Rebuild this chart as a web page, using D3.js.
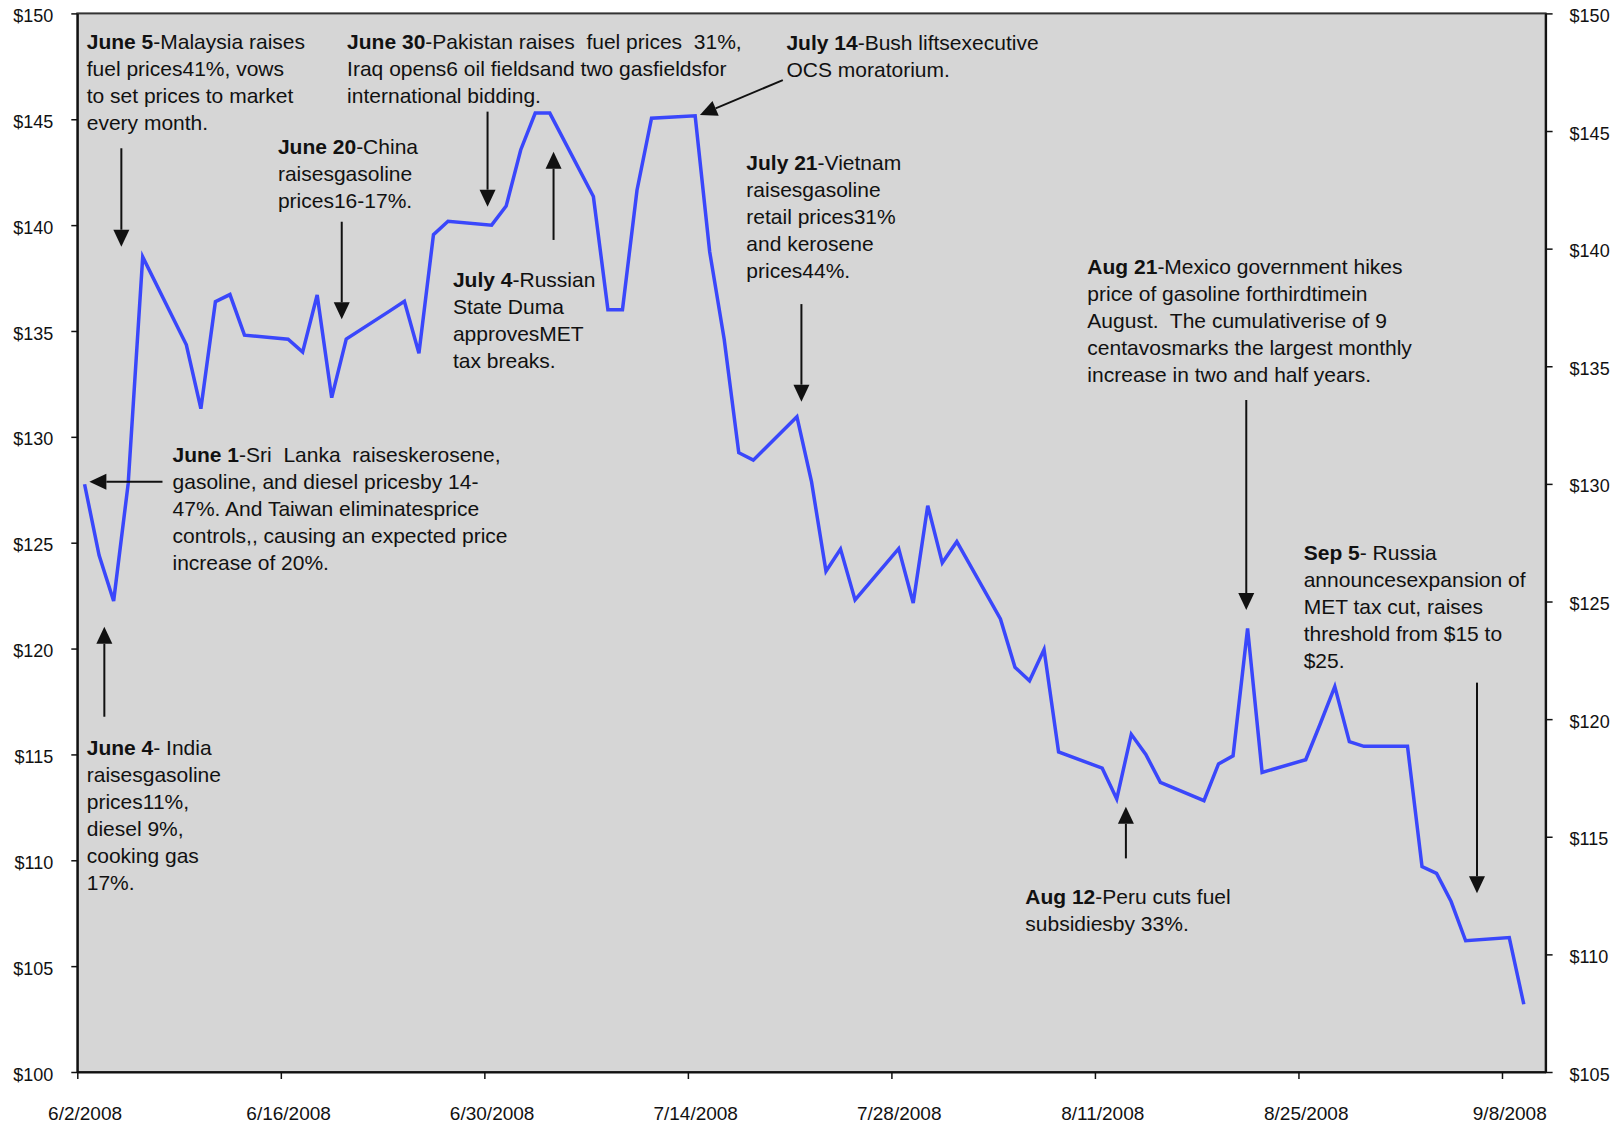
<!DOCTYPE html>
<html>
<head>
<meta charset="utf-8">
<script src="https://cdn.jsdelivr.net/npm/d3@7"></script>
<style>
body { margin: 0; background: #fff; }
svg text { font-family: "Liberation Sans", Arial, sans-serif; fill: #111; }
.note { font-size: 21px; white-space: pre; }
</style>
</head>
<body>
<svg id="chart"></svg>
<script>
// daily oil price, June - September 2008
var dates = [
  "6/2/2008","6/3/2008","6/4/2008","6/5/2008","6/6/2008","6/9/2008","6/10/2008","6/11/2008","6/12/2008","6/13/2008",
  "6/16/2008","6/17/2008","6/18/2008","6/19/2008","6/20/2008","6/23/2008","6/24/2008","6/25/2008","6/26/2008","6/27/2008",
  "6/30/2008","7/1/2008","7/2/2008","7/3/2008","7/4/2008","7/7/2008","7/8/2008","7/9/2008","7/10/2008","7/11/2008",
  "7/14/2008","7/15/2008","7/16/2008","7/17/2008","7/18/2008","7/21/2008","7/22/2008","7/23/2008","7/24/2008","7/25/2008",
  "7/28/2008","7/29/2008","7/30/2008","7/31/2008","8/1/2008","8/4/2008","8/5/2008","8/6/2008","8/7/2008","8/8/2008",
  "8/11/2008","8/12/2008","8/13/2008","8/14/2008","8/15/2008","8/18/2008","8/19/2008","8/20/2008","8/21/2008","8/22/2008",
  "8/25/2008","8/26/2008","8/27/2008","8/28/2008","8/29/2008","9/1/2008","9/2/2008","9/3/2008","9/4/2008","9/5/2008",
  "9/8/2008","9/9/2008"
];
var prices = [
  127.76, 124.4, 122.25, 127.79, 138.5, 134.35, 131.33, 136.38, 136.72, 134.8,
  134.61, 134.0, 136.7, 131.85, 134.62, 135.95, 136.4, 133.95, 139.55, 140.18,
  140.0, 140.9, 143.55, 145.29, 145.29, 141.35, 136.0, 136.0, 141.65, 145.05,
  145.16, 138.74, 134.6, 129.25, 128.9, 130.95, 127.9, 123.65, 124.7, 122.3,
  124.72, 122.15, 126.75, 124.05, 125.05, 121.4, 119.12, 118.48, 119.95, 115.12,
  114.35, 112.9, 115.95, 115.0, 113.68, 112.82, 114.55, 114.93, 120.95, 114.15,
  114.75, 116.45, 118.2, 115.6, 115.38, 115.38, 109.7, 109.38, 108.05, 106.2,
  106.35, 103.2
];

var leftTicks = [100, 105, 110, 115, 120, 125, 130, 135, 140, 145, 150];
var rightTicks = [105, 110, 115, 120, 125, 130, 135, 140, 145, 150];
var dateTicks = ["6/2/2008", "6/16/2008", "6/30/2008", "7/14/2008", "7/28/2008", "8/11/2008", "8/25/2008", "9/8/2008"];
var xStart = "6/2/2008", xEnd = "9/11/2008";

// annotations: day = days after 6/2/2008, price = left axis value
var notes = [
  {day: 0.65, price: 148.66, head: "June 5", lines: ["-Malaysia raises", "fuel prices41%, vows", "to set prices to market", "every month."]},
  {day: 13.8, price: 143.7, head: "June 20", lines: ["-China", "raisesgasoline", "prices16-17%."]},
  {day: 18.56, price: 148.66, head: "June 30", lines: ["-Pakistan raises  fuel prices  31%,", "Iraq opens6 oil fieldsand two gasfieldsfor", "international bidding."]},
  {day: 25.84, price: 137.4, head: "July 4", lines: ["-Russian", "State Duma", "approvesMET", "tax breaks."]},
  {day: 48.78, price: 148.59, head: "July 14", lines: ["-Bush liftsexecutive", "OCS moratorium."]},
  {day: 46.02, price: 142.92, head: "July 21", lines: ["-Vietnam", "raisesgasoline", "retail prices31%", "and kerosene", "prices44%."]},
  {day: 69.48, price: 138.04, head: "Aug 21", lines: ["-Mexico government hikes", "price of gasoline forthirdtimein", "August.  The cumulativerise of 9", "centavosmarks the largest monthly", "increase in two and half years."]},
  {day: 84.36, price: 124.5, head: "Sep 5", lines: ["- Russia", "announcesexpansion of", "MET tax cut, raises", "threshold from $15 to", "$25."]},
  {day: 6.55, price: 129.14, head: "June 1", lines: ["-Sri  Lanka  raiseskerosene,", "gasoline, and diesel pricesby 14-", "47%. And Taiwan eliminatesprice", "controls,, causing an expected price", "increase of 20%."]},
  {day: 0.65, price: 115.3, head: "June 4", lines: ["- India", "raisesgasoline", "prices11%,", "diesel 9%,", "cooking gas", "17%."]},
  {day: 65.21, price: 108.28, head: "Aug 12", lines: ["-Peru cuts fuel", "subsidiesby 33%."]}
];
var arrows = [
  {from: [3.03, 143.63], to: [3.03, 138.98]},
  {from: [18.19, 140.16], to: [18.19, 135.55]},
  {from: [28.22, 145.36], to: [28.22, 140.87]},
  {from: [32.76, 139.3], to: [32.76, 143.47]},
  {from: [48.53, 146.85], to: [42.83, 145.2]},
  {from: [49.81, 136.27], to: [49.81, 131.66]},
  {from: [80.41, 131.74], to: [80.41, 121.82]},
  {from: [96.28, 118.39], to: [96.28, 108.44]},
  {from: [5.86, 127.88], to: [0.83, 127.88]},
  {from: [1.86, 116.78], to: [1.86, 121.03]},
  {from: [72.13, 110.09], to: [72.13, 112.53]}
];

var parseDate = d3.timeParse("%m/%d/%Y");
var DAY = 864e5;

var data = dates.map(function(d, i) {
    // points sit in the middle of their day
    return { date: new Date(parseDate(d).getTime() + DAY / 2), value: prices[i] };
});

var svgWidth = 1621, svgHeight = 1125;
var margin = { top: 13.4, right: 75.4, bottom: 53, left: 77.3 };
var width = svgWidth - margin.left - margin.right;
var height = svgHeight - margin.top - margin.bottom;

var svg = d3.select("#chart")
    .attr("width", svgWidth)
    .attr("height", svgHeight);

var g = svg.append("g")
    .attr("transform", "translate(" + margin.left + "," + margin.top + ")");

var x = d3.scaleTime()
    .domain([parseDate(xStart), parseDate(xEnd)])
    .range([0, width]);
var y = d3.scaleLinear().domain([100, 150]).range([height, 0]);
var y2 = d3.scaleLinear().domain([105, 150]).range([height, 0]);

function dayX(d) { return x(new Date(parseDate(xStart).getTime() + d * DAY)); }

// plot area
g.append("rect")
    .attr("width", width)
    .attr("height", height)
    .attr("fill", "#d6d6d6")
    .attr("stroke", "#333")
    .attr("stroke-width", 2);

var halfDay = x(new Date(parseDate(xStart).getTime() + DAY / 2)) - x(parseDate(xStart));

var xAxis = g.append("g")
    .attr("transform", "translate(0," + height + ")")
    .call(d3.axisBottom(x)
        .tickValues(dateTicks.map(parseDate))
        .tickSize(7)
        .tickSizeOuter(0)
        .tickPadding(28)
        .tickFormat(d3.timeFormat("%-m/%-d/%Y")));
xAxis.selectAll("text").attr("x", halfDay).style("font-size", "19px");

var yAxis = g.append("g")
    .call(d3.axisLeft(y)
        .tickValues(leftTicks)
        .tickSize(6)
        .tickSizeOuter(0)
        .tickPadding(18)
        .tickFormat(function(d) { return "$" + d; }));
yAxis.selectAll("text").attr("dy", "0.45em").style("font-size", "18px");

var yAxis2 = g.append("g")
    .attr("transform", "translate(" + width + ",0)")
    .call(d3.axisRight(y2)
        .tickValues(rightTicks)
        .tickSize(7)
        .tickSizeOuter(0)
        .tickPadding(17)
        .tickFormat(function(d) { return "$" + d; }));
yAxis2.selectAll("text").attr("dy", "0.45em").style("font-size", "18px");

svg.selectAll(".domain").attr("stroke", "#111").attr("stroke-width", 2);
svg.selectAll(".tick line").attr("stroke", "#111").attr("stroke-width", 1.5);
svg.selectAll(".tick text").attr("fill", "#111").style("font-family", "'Liberation Sans', Arial, sans-serif");

var line = d3.line()
    .x(function(d) { return x(d.date); })
    .y(function(d) { return y(d.value); });

g.append("path")
    .datum(data)
    .attr("fill", "none")
    .attr("stroke", "#3a47fb")
    .attr("stroke-width", 3.5)
    .attr("stroke-linejoin", "miter")
    .attr("d", line);

// annotation text
notes.forEach(function(n) {
    var t = g.append("text")
        .attr("class", "note")
        .attr("x", dayX(n.day))
        .attr("y", y(n.price) + 7);
    n.lines.forEach(function(l, i) {
        if (i == 0) {
            t.append("tspan").attr("font-weight", "bold").text(n.head);
            t.append("tspan").text(l);
        } else {
            t.append("tspan").attr("x", dayX(n.day)).attr("dy", 27).text(l);
        }
    });
});

// arrows
arrows.forEach(function(a) {
    var x1 = dayX(a.from[0]), y1 = y(a.from[1]);
    var x2 = dayX(a.to[0]), y2v = y(a.to[1]);
    var ang = Math.atan2(y2v - y1, x2 - x1);
    var len = 17, half = 8;
    var bx = x2 - len * Math.cos(ang), by = y2v - len * Math.sin(ang);
    g.append("line")
        .attr("x1", x1).attr("y1", y1)
        .attr("x2", bx).attr("y2", by)
        .attr("stroke", "#111")
        .attr("stroke-width", 2);
    g.append("path")
        .attr("d", "M" + x2 + "," + y2v +
            "L" + (bx + half * Math.sin(ang)) + "," + (by - half * Math.cos(ang)) +
            "L" + (bx - half * Math.sin(ang)) + "," + (by + half * Math.cos(ang)) + "Z")
        .attr("fill", "#111");
});
</script>
</body>
</html>
